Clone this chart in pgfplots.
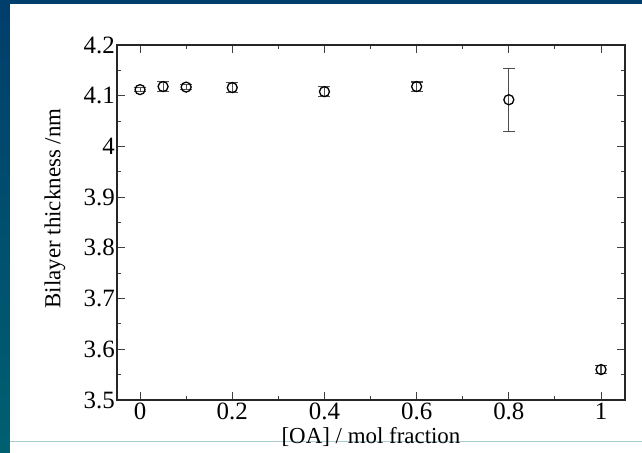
\documentclass[border=0pt]{standalone}
\usepackage{pgfplots}
\pgfplotsset{compat=1.18}
\usepackage{fontspec}
\setmainfont{Liberation Serif}
\definecolor{bgtop}{RGB}{0,62,108}
\definecolor{bgbot}{RGB}{0,96,112}
\definecolor{sepline}{RGB}{170,205,212}
\begin{document}
\begin{tikzpicture}[x=1bp,y=1bp]
\useasboundingbox (0,0) rectangle (642,453);
\shade[top color=bgtop, bottom color=bgbot] (0,0) rectangle (642,453);
\fill[white] (10,0) rectangle (642,449);
\draw[sepline, line width=1bp] (10,11) -- (642,11);
\begin{axis}[
  at={(117bp,53bp)}, anchor=south west,
  scale only axis, width=508bp, height=355bp,
  xmin=-0.05, xmax=1.052, ymin=3.5, ymax=4.2,
  xtick={0,0.2,0.4,0.6,0.8,1},
  xticklabels={0,0.2,0.4,0.6,0.8,1},
  minor xtick={0.1,0.3,0.5,0.7,0.9},
  ytick={3.5,3.6,3.7,3.8,3.9,4,4.1,4.2},
  yticklabels={3.5,3.6,3.7,3.8,3.9,4,4.1,4.2},
  minor ytick={3.55,3.65,3.75,3.85,3.95,4.05,4.15},
  tick align=inside,
  major tick length=8bp, minor tick length=4bp,
  tick style={line width=1bp, color=black!75},
  axis line style={line width=1.3bp, black!85},
  ticklabel style={font=\fontsize{25}{25}\selectfont},
  xlabel={[OA] / mol fraction},
  ylabel={Bilayer thickness /nm},
  label style={font=\fontsize{23}{23}\selectfont},
  xlabel style={at={(axis description cs:0.5,0)}, anchor=center, yshift=-37bp},
  ylabel style={at={(axis description cs:0,0.5)}, anchor=center, xshift=14bp, yshift=62bp},
  xticklabel style={yshift=-2bp, inner sep=1bp},
  yticklabel style={xshift=0bp, inner sep=2bp},
]
\addplot[only marks, mark=o, mark size=5bp, mark options={line width=1.3bp, black},
  error bars/.cd, y dir=both, y explicit,
  error bar style={line width=1.1bp, black!70},
  error mark options={rotate=90, mark size=6bp, line width=1.1bp, black!70}]
  coordinates {
  (0,4.112) +- (0,0.004)
  (0.05,4.118) +- (0,0.010)
  (0.1,4.117) +- (0,0.005)
  (0.2,4.116) +- (0,0.010)
  (0.4,4.108) +- (0,0.010)
  (0.6,4.118) +- (0,0.009)
  (0.8,4.092) +- (0,0.062)
  (1.0,3.560) +- (0,0.008)
  };
\end{axis}
\end{tikzpicture}
\end{document}
